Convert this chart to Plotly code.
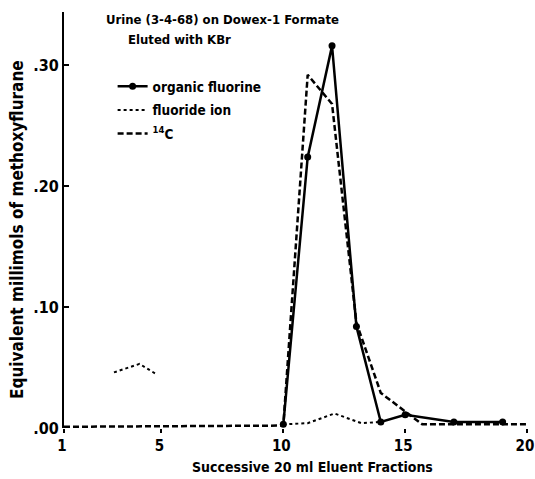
import plotly.graph_objects as go

# ---- data ----
fraction_ticks = [1, 5, 10, 15, 20]
y_ticks = [0.0, 0.10, 0.20, 0.30]
y_tick_labels = [".00", ".10", ".20", ".30"]

organic_x = [10, 11, 12, 13, 14, 15, 17, 19]
organic_y = [0.003, 0.224, 0.316, 0.084, 0.005, 0.011, 0.005, 0.005]

fluoride_x = [3.05, 4.1, 4.75, None, 10, 11, 12.1, 13.2, 14]
fluoride_y = [0.046, 0.053, 0.045, None, 0.003, 0.004, 0.012, 0.004, 0.005]

c14_x = [1, 10, 11, 12, 13, 14, 15.7, 20]
c14_y = [0.001, 0.002, 0.292, 0.268, 0.087, 0.029, 0.003, 0.003]

FONT = "DejaVu Sans Condensed, Liberation Sans Narrow, Roboto, sans-serif"

fig = go.Figure()
fig.add_trace(go.Scatter(x=organic_x, y=organic_y, mode="lines+markers",
                         name="organic fluorine", cliponaxis=False, legendgroup="a",
                         line=dict(color="black", width=2.5),
                         marker=dict(color="black", size=7)))
fig.add_trace(go.Scatter(x=fluoride_x, y=fluoride_y, mode="lines",
                         name="fluoride ion", cliponaxis=False, legendgroup="b",
                         line=dict(color="black", width=2, dash="dot")))
fig.add_trace(go.Scatter(x=c14_x, y=c14_y, mode="lines",
                         name="<sup>14</sup>C", cliponaxis=False, legendgroup="c",
                         line=dict(color="black", width=2.5, dash="6px,3px")))

fig.update_layout(
    width=535, height=479,
    margin=dict(l=64, r=8, t=12, b=51),
    paper_bgcolor="white", plot_bgcolor="white",
    font=dict(family=FONT, size=14, color="black", weight="bold"),
    showlegend=True,
    legend=dict(x=0.105, y=0.858, xanchor="left", yanchor="top",
                bgcolor="rgba(0,0,0,0)", font=dict(size=13.5),
                itemwidth=30, tracegroupgap=3),
    xaxis=dict(range=[1, 20], tickvals=fraction_ticks, showgrid=False,
               zeroline=False, showline=False, ticks="outside", ticklen=4,
               tickwidth=2, tickcolor="black", tickfont=dict(size=15),
               ticklabeloverflow="allow", automargin=False, ticklabelshift=-2),
    yaxis=dict(range=[0, 0.344], tickvals=y_ticks, ticktext=y_tick_labels,
               showgrid=False, zeroline=False, showline=True, linewidth=2,
               linecolor="black", ticks="inside", ticklen=5, tickwidth=1.5,
               tickcolor="black", tickfont=dict(size=16), automargin=False),
    annotations=[
        dict(text="Urine (3-4-68) on Dowex-1 Formate", x=0.343, y=0.983,
             xref="paper", yref="paper", xanchor="center", yanchor="middle",
             showarrow=False, font=dict(size=13)),
        dict(text="Eluted with KBr", x=0.2505, y=0.933,
             xref="paper", yref="paper", xanchor="center", yanchor="middle",
             showarrow=False, font=dict(size=13)),
        dict(text="Successive 20 ml Eluent Fractions", x=0.536, y=-0.094,
             xref="paper", yref="paper", xanchor="center", yanchor="middle",
             showarrow=False, font=dict(size=14)),
        dict(text="Equivalent millimols of methoxyflurane", x=-0.1015, y=0.476,
             xref="paper", yref="paper", xanchor="center", yanchor="middle",
             showarrow=False, textangle=-90, font=dict(size=17)),
    ],
)

fig.write_html("out.html")
